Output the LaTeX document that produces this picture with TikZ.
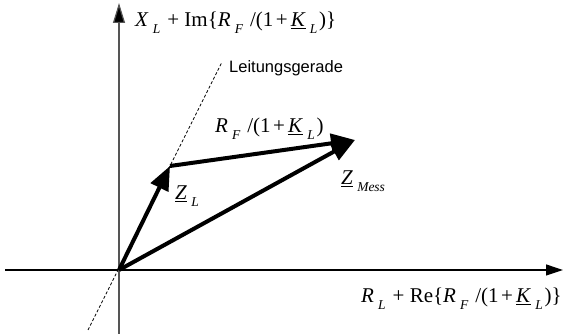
\documentclass[tikz,border=0pt]{standalone}
\usepackage{fontspec}
\setmainfont{Liberation Serif}
\newfontfamily\arialf{Liberation Sans}
\usetikzlibrary{arrows.meta}
\newcommand\sbs[1]{\kern0.2em\raisebox{-0.3em}{\fontsize{13.5}{13.5}\selectfont\itshape #1}\kern0.08em}
\newcommand\itl[1]{\textit{#1}}
\newcommand\uit[1]{\underline{\textit{#1}}}
\newcommand\pl{\kern0.25em+\kern0.25em}
\newcommand\ipl{\kern0.12em+\kern0.15em}
\newcommand\myslash{\kern0.25em/}
\definecolor{axgray}{RGB}{85,85,85}
\begin{document}
\begin{tikzpicture}[x=1pt,y=1pt,
  vec/.style={line width=4pt,-{Triangle[length=24pt,width=19pt]}},
  axis/.style={line width=1.2pt},
  lbl/.style={anchor=base west,inner sep=0pt,font=\fontsize{21}{22}\selectfont},
  slbl/.style={anchor=base west,inner sep=0pt,font=\arialf\fontsize{16.5}{18}\selectfont}]
\useasboundingbox (0,0) rectangle (565,334);
\coordinate (O) at (119,64);
\coordinate (A) at (170,168);
\coordinate (B) at (355,194);
\coordinate (XL) at (5,64);
\coordinate (XR) at (563,64);
\coordinate (YB) at (119,0);
\coordinate (YT) at (119,331);
\coordinate (D1) at (88,4);
\coordinate (D2) at (222,272);
% axes
\draw[axis,black,-{Triangle[length=17pt,width=11pt]}] (XL) -- (XR);
\draw[axis,axgray,-{Triangle[length=20pt,width=12pt,fill=black]}] (YB) -- (YT);
% line
\draw[line width=0.7pt,dash pattern=on 3pt off 2pt] (D1) -- (D2);
% vectors
\draw[vec] (O) -- (A);
\draw[vec] (A) -- (B);
\draw[vec] (O) -- (B);
% labels
\node[lbl] (tl) at (135,307) {\itl{X}\sbs{L}\pl Im\{\itl{R}\sbs{F}\myslash(1\ipl\uit{K}\sbs{L})\}};
\node[lbl] (bl) at (361,31) {\itl{R}\sbs{L}\pl Re\{\itl{R}\sbs{F}\myslash(1\ipl\uit{K}\sbs{L})\}};
\node[lbl] (rf) at (215,201) {\itl{R}\sbs{F}\myslash(1\ipl\uit{K}\sbs{L})};
\node[lbl] (zl) at (175,134) {\uit{Z}\sbs{L}};
\node[lbl] (zm) at (341,149) {\uit{Z}\sbs{Mess}};
\node[slbl] (lg) at (229,261) {Leitungsgerade};
\end{tikzpicture}
\end{document}
